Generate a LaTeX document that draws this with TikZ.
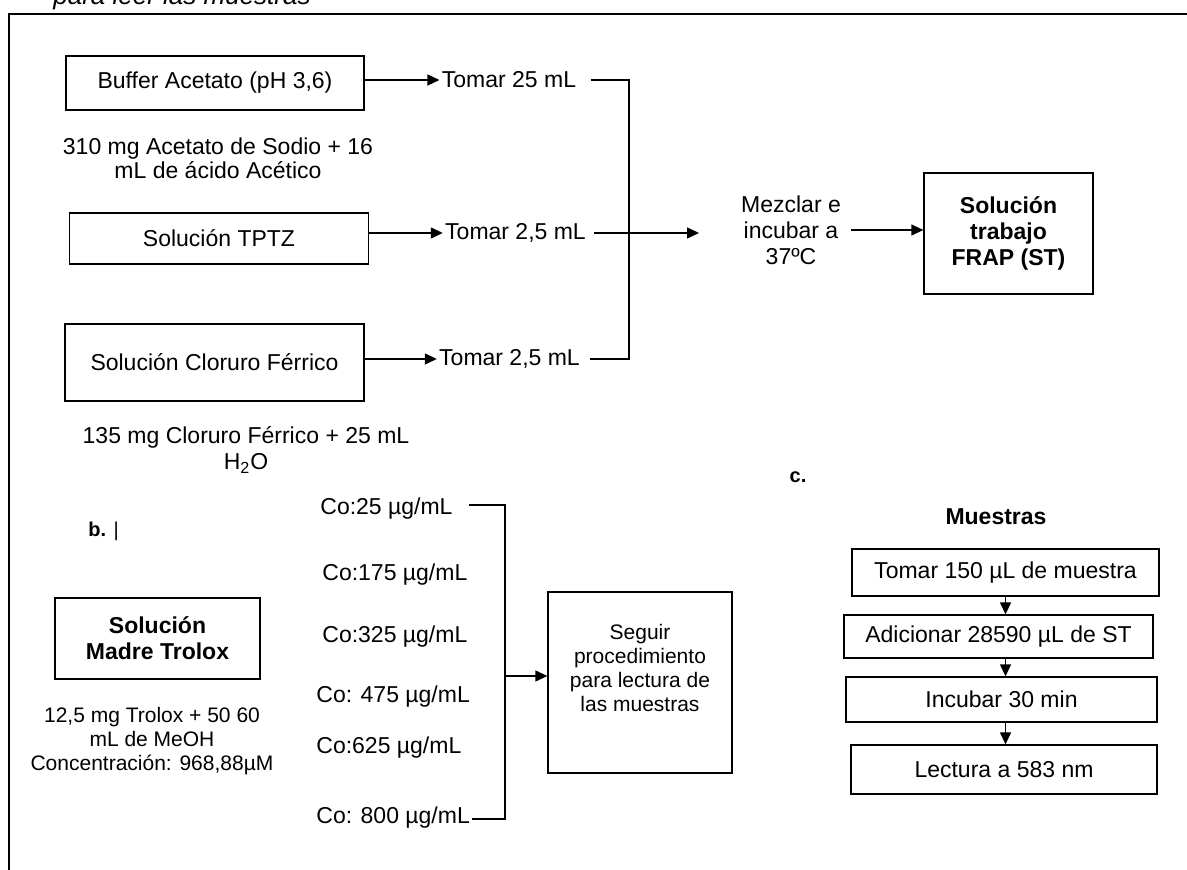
\documentclass[tikz,border=0pt]{standalone}
\usepackage{fontspec}
\setmainfont{Liberation Sans}
\usetikzlibrary{arrows.meta, positioning}

\begin{document}
\begin{tikzpicture}[
  x=0.5pt, y=-0.5pt,
  font=\fontsize{11.5pt}{13pt}\selectfont,
  every node/.style={align=center, inner sep=1pt},
  box/.style={rectangle, draw, line width=0.65pt, inner sep=0pt},
  boldText/.style={font=\fontsize{11.5pt}{13pt}\selectfont\bfseries},
  noteText/.style={font=\fontsize{11.5pt}{12pt}\selectfont},
  smallText/.style={font=\fontsize{10.5pt}{12pt}\selectfont},
  partLabel/.style={font=\fontsize{10pt}{12pt}\selectfont\bfseries},
  coLabel/.style={anchor=base west},
  line/.style={line width=0.65pt},
  arrow/.style={-{Triangle[length=6pt,width=5.5pt]}, line width=0.65pt},
  frame/.style={line width=1pt},
]
\useasboundingbox (0,0) rectangle (1187,870);

% caption cut by the page, and the frame
\node[anchor=base west, inner sep=0pt, font=\fontsize{13pt}{15pt}\selectfont\itshape] (caption) at (53,5) {para leer las muestras};
\draw[frame] (9,880) -- (9,14) -- (1195,14);

% ------------------- a. solucion de trabajo -------------------
\node[box, minimum width=149pt, minimum height=27pt] (buffer) at (215,83) {Buffer Acetato (pH 3,6)};
\node[noteText] (bufferNote) at (218,158) {310 mg Acetato de Sodio + 16\\mL de ácido Acético};
\node[box, minimum width=149.5pt, minimum height=25.5pt] (tptz) at (219,238.5) {Solución TPTZ};
\node[box, minimum width=149.5pt, minimum height=38.5pt] (cloruro) at (214.5,362.5) {Solución Cloruro Férrico};
\node (cloruroNote) at (246,450) {135 mg Cloruro Férrico + 25 mL\\H\textsubscript{2}O};

\node (tomar1) at (509,80) {Tomar 25 mL};
\node (tomar2) at (515.5,233) {Tomar 2,5 mL};
\node (tomar3) at (509.5,359) {Tomar 2,5 mL};

\draw[arrow] (buffer.east |- tomar1) -- (tomar1.west);
\draw[arrow] (tptz.east |- tomar2) -- (tomar2.west);
\draw[arrow] (cloruro.east |- tomar3) -- (tomar3.west);

% join of the three volumes
\coordinate (mixBusTop) at (629,80);
\coordinate (mixBusBot) at (629,359);
\coordinate (mixIn) at (699,233);
\draw[line] ([xshift=6pt]tomar1.east) -- (mixBusTop) -- (mixBusBot) -- ([xshift=4pt]tomar3.east);
\draw[arrow] ([xshift=3pt]tomar2.east) -- (mixIn);

\node (mix) at (791,230) {Mezclar e\\incubar a\\37ºC};
\node[box, boldText, minimum width=84.5pt, minimum height=60.5pt] (frap) at (1008.5,233.5) {Solución\\trabajo\\FRAP (ST)};
\draw[arrow] ([xshift=4pt]mix.east) -- (mix.east -| frap.west);

% ------------------- b. curva de Trolox -------------------
\node[partLabel, anchor=base west] (bLabel) at (86,537) {b. \mdseries|};
\node[box, boldText, minimum width=102.5pt, minimum height=40.5pt] (trolox) at (157.5,638.5) {Solución\\Madre Trolox};
\node[smallText] (troloxNote) at (152,741) {12,5 mg Trolox + 50 60\\mL de MeOH\\Concentración: 968,88µM};

\node[coLabel] (co1) at (318,515) {Co:25 µg/mL};
\node[coLabel] (co2) at (320,581) {Co:175 µg/mL};
\node[coLabel] (co3) at (320,642) {Co:325 µg/mL};
\node[coLabel] (co4) at (314,702) {Co: 475 µg/mL};
\node[coLabel] (co5) at (314,753) {Co:625 µg/mL};
\node[coLabel] (co6) at (314,823) {Co: 800 µg/mL};

\coordinate (coBusTop) at (505,505);
\coordinate (coBusBot) at (505,819);
\coordinate (coOut) at (505,676);
\draw[line] ([xshift=7pt]co1.east |- coBusTop) -- (coBusTop) -- (coBusBot) -- (co6.east |- coBusBot);

\node[box, minimum width=92pt, minimum height=90.5pt] (seguir) at (640,682.5) {};
\node[smallText] (seguirText) at (640,668) {Seguir\\procedimiento\\para lectura de\\las muestras};
\draw[arrow] (coOut) -- (coOut -| seguir.west);

% ------------------- c. muestras -------------------
\node[partLabel] (cLabel) at (798,477) {c.};
\node[boldText] (muestras) at (996,517) {Muestras};
\node[box, minimum width=153.5pt, minimum height=23.5pt] (step1) at (1005.5,572.5) {Tomar 150 µL de muestra};
\node[box, minimum width=154.5pt, minimum height=21.5pt] (step2) at (998.5,636.5) {Adicionar 28590 µL de ST};
\node[box, minimum width=155.5pt, minimum height=22.5pt] (step3) at (1001.5,699.5) {Incubar 30 min};
\node[box, minimum width=153pt, minimum height=24.5pt] (step4) at (1004,769.5) {Lectura a 583 nm};

\draw[arrow] (step1.south) -- (step1.south |- step2.north);
\draw[arrow] (step1.south |- step2.south) -- (step1.south |- step3.north);
\draw[arrow] (step1.south |- step3.south) -- (step1.south |- step4.north);

\end{tikzpicture}
\end{document}
